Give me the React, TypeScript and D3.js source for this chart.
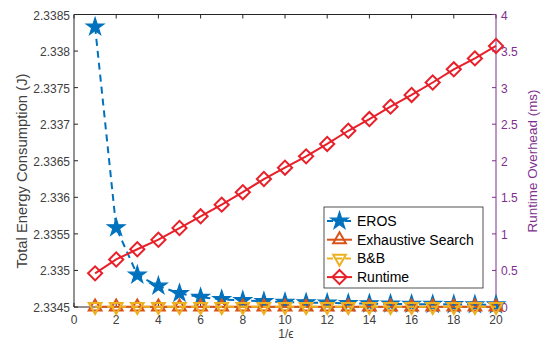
import React, { useRef, useEffect } from "react";
import * as d3 from "d3";

const xs = [1, 2, 3, 4, 5, 6, 7, 8, 9, 10, 11, 12, 13, 14, 15, 16, 17, 18, 19, 20];
const eros = [2.33833, 2.335585, 2.334938, 2.334787, 2.334687, 2.334633, 2.334605, 2.334589, 2.334576, 2.334567,
  2.33456, 2.334555, 2.33455, 2.334546, 2.334543, 2.33454, 2.334537, 2.334535, 2.334533, 2.334531];
const exhaustive = xs.map(() => 2.334503);
const bnb = xs.map(() => 2.334503);
const runtime = [0.46, 0.65, 0.79, 0.92, 1.08, 1.24, 1.4, 1.57, 1.75, 1.905, 2.06, 2.23, 2.41, 2.57, 2.74, 2.9, 3.07,
  3.25, 3.4, 3.57];
const leftTicks = [2.3345, 2.335, 2.3355, 2.336, 2.3365, 2.337, 2.3375, 2.338, 2.3385];
const rightTicks = [0, 0.5, 1, 1.5, 2, 2.5, 3, 3.5, 4];
const xTicks = [0, 2, 4, 6, 8, 10, 12, 14, 16, 18, 20];
const legendItems = ["EROS", "Exhaustive Search", "B&B", "Runtime"];

const BLUE = "#0072BD", ORANGE = "#D95319", YELLOW = "#EDB120", RED = "#E8202A", PURPLE = "#7E2F8E", AX = "#262626";
const TXT = "#404040";

function App() {
  const svgRef = useRef<SVGSVGElement>(null);

  useEffect(() => {
    const svg = d3.select(svgRef.current);
    svg.selectAll("*").remove();
    const font = "'Liberation Sans', Arial, sans-serif";
    const L = 74, R = 496, T = 14.5, B = 307;

    const x = d3.scaleLinear().domain([0, 20]).range([L, R]);
    const yL = d3.scaleLinear().domain([2.3345, 2.3385]).range([B, T]);
    const yR = d3.scaleLinear().domain([0, 4]).range([B, T]);

    const g = svg.append("g").style("font-family", font);

    // box
    g.append("line").attr("x1", L).attr("x2", R).attr("y1", T).attr("y2", T).attr("stroke", AX);
    g.append("line").attr("x1", L).attr("x2", R).attr("y1", B).attr("y2", B).attr("stroke", AX);
    g.append("line").attr("x1", L).attr("x2", L).attr("y1", T).attr("y2", B).attr("stroke", AX);

    xTicks.forEach(t => {
      g.append("line").attr("x1", x(t)).attr("x2", x(t)).attr("y1", B).attr("y2", B - 4).attr("stroke", AX);
      g.append("line").attr("x1", x(t)).attr("x2", x(t)).attr("y1", T).attr("y2", T + 4).attr("stroke", AX);
      g.append("text").attr("x", x(t)).attr("y", B + 16.5).attr("text-anchor", "middle")
        .attr("font-size", 12).attr("fill", TXT).text(t);
    });
    leftTicks.forEach(t => {
      g.append("line").attr("x1", L).attr("x2", L + 4).attr("y1", yL(t)).attr("y2", yL(t)).attr("stroke", AX);
      g.append("text").attr("x", L - 4).attr("y", yL(t) + 5).attr("text-anchor", "end")
        .attr("font-size", 12).attr("fill", TXT).text(d3.format("")(t));
    });
    g.append("line").attr("x1", R).attr("x2", R).attr("y1", T).attr("y2", B).attr("stroke", PURPLE);
    rightTicks.forEach(t => {
      g.append("line").attr("x1", R - 4).attr("x2", R).attr("y1", yR(t)).attr("y2", yR(t)).attr("stroke", PURPLE);
      g.append("text").attr("x", R + 5).attr("y", yR(t) + 5).attr("text-anchor", "start")
        .attr("font-size", 12).attr("fill", PURPLE).text(t);
    });

    g.append("text").attr("transform", `translate(27,171) rotate(-90)`).attr("text-anchor", "middle")
      .attr("font-size", 14.8).attr("fill", TXT).text("Total Energy Consumption (J)");
    g.append("text").attr("transform", `translate(537,161) rotate(-90)`).attr("text-anchor", "middle")
      .attr("font-size", 13.4).attr("fill", PURPLE).text("Runtime Overhead (ms)");
    g.append("text").attr("x", x(10) + 1).attr("y", 337.5).attr("text-anchor", "middle")
      .attr("font-size", 12).attr("fill", TXT).text("1/ϵ");

    const star = d3.symbol().type(d3.symbolStar).size(95);
    const triUp = d3.symbol().type(d3.symbolTriangle).size(70);
    const diamond = d3.symbol().type(d3.symbolSquare).size(100);

    const drawMarker = (sel: any, kind: string, color: string) => {
      if (kind === "star") sel.append("path").attr("d", star()).attr("fill", color).attr("stroke", color).attr("stroke-width", 1.2);
      if (kind === "up") sel.append("path").attr("d", triUp()).attr("fill", "none").attr("stroke", color).attr("stroke-width", 2);
      if (kind === "down") sel.append("path").attr("d", triUp()).attr("transform", "rotate(180)").attr("fill", "none").attr("stroke", color).attr("stroke-width", 2);
      if (kind === "diamond") sel.append("path").attr("d", diamond()).attr("transform", "rotate(45)").attr("fill", "none").attr("stroke", color).attr("stroke-width", 2);
    };

    const series = [
      { vals: eros, y: yL, color: BLUE, dash: "7,5", marker: "star" },
      { vals: exhaustive, y: yL, color: ORANGE, dash: null, marker: "up" },
      { vals: bnb, y: yL, color: YELLOW, dash: "7,5", marker: "down" },
      { vals: runtime, y: yR, color: RED, dash: null, marker: "diamond" },
    ];

    series.forEach(s => {
      const line = d3.line<number>().x((d, i) => x(xs[i])).y(d => s.y(d));
      g.append("path").attr("d", line(s.vals)).attr("fill", "none").attr("stroke", s.color)
        .attr("stroke-width", 2).attr("stroke-dasharray", s.dash);
      s.vals.forEach((v, i) => {
        const m = g.append("g").attr("transform", `translate(${x(xs[i])},${s.y(v)})`);
        drawMarker(m, s.marker, s.color);
      });
    });

    // legend
    const lg = g.append("g");
    lg.append("rect").attr("x", 324).attr("y", 207).attr("width", 159).attr("height", 81)
      .attr("fill", "white").attr("stroke", AX).attr("stroke-width", 0.8);
    legendItems.forEach((name, i) => {
      const s = series[i];
      const yy = 221 + i * 18.7;
      lg.append("line").attr("x1", 327).attr("x2", 352).attr("y1", yy).attr("y2", yy)
        .attr("stroke", s.color).attr("stroke-width", 2).attr("stroke-dasharray", s.dash ? "6,3" : null);
      const m = lg.append("g").attr("transform", `translate(339.5,${yy})`);
      drawMarker(m, s.marker, s.color);
      lg.append("text").attr("x", 357).attr("y", yy + 5).attr("font-size", 14).attr("fill", "#000").text(name);
    });
  }, []);

  return (
    <div style={{ position: "absolute", left: 0, top: 0 }}>
      <svg ref={svgRef} width={541} height={339} style={{ background: "white", display: "block" }}></svg>
    </div>
  );
}

export default App;
